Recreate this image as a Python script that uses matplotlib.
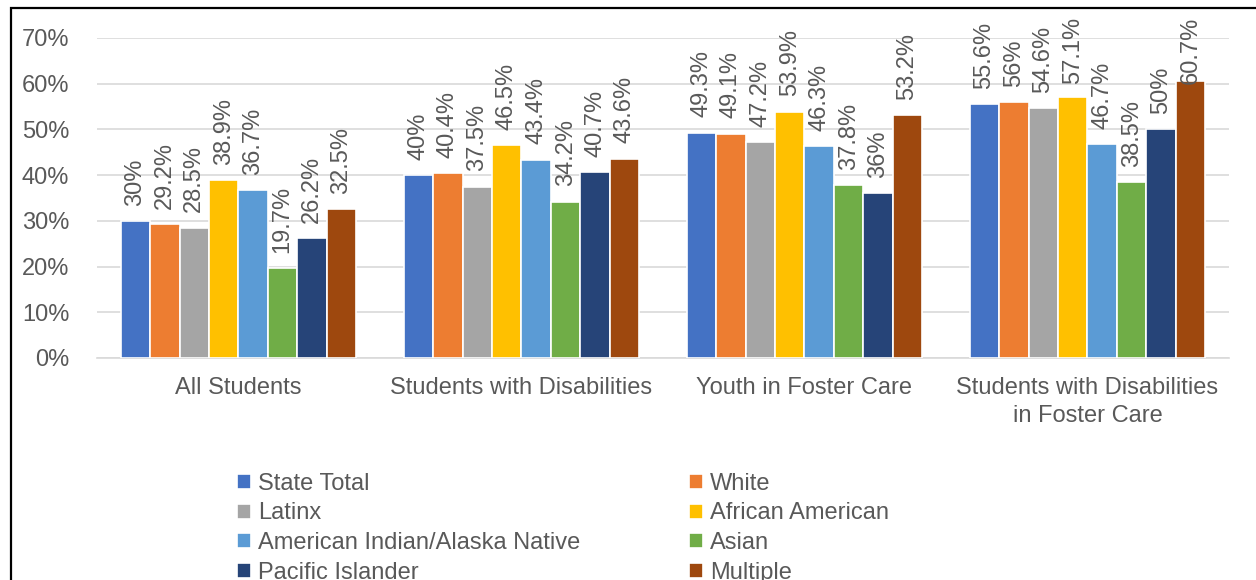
import numpy as np
import matplotlib.pyplot as plt
from matplotlib.patches import Rectangle

plt.rcParams['font.family'] = ['Liberation Sans', 'DejaVu Sans']

categories = ['All Students', 'Students with Disabilities', 'Youth in Foster Care',
              'Students with Disabilities\nin Foster Care']
groups = ['State Total', 'White', 'Latinx', 'African American',
          'American Indian/Alaska Native', 'Asian', 'Pacific Islander', 'Multiple']
values = [
    [30, 40, 49.3, 55.6],      # State Total
    [29.2, 40.4, 49.1, 56],    # White
    [28.5, 37.5, 47.2, 54.6],  # Latinx
    [38.9, 46.5, 53.9, 57.1],  # African American
    [36.7, 43.4, 46.3, 46.7],  # American Indian/Alaska Native
    [19.7, 34.2, 37.8, 38.5],  # Asian
    [26.2, 40.7, 36, 50],      # Pacific Islander
    [32.5, 43.6, 53.2, 60.7],  # Multiple
]
colors = ['#4472C4', '#ED7D31', '#A5A5A5', '#FFC000',
          '#5B9BD5', '#70AD47', '#264478', '#9E480E']

txt = '#595959'
fs = 17
fig = plt.figure(figsize=(12.56, 5.8), dpi=100)
ax = fig.add_axes([0.0772, 0.3828, 0.9013, 0.5517])

x = np.arange(len(categories))
w = 0.104
handles = []
labels = []
for i, (g, vals) in enumerate(zip(groups, values)):
    pos = x + (i - 3.5) * w
    bars = ax.bar(pos, vals, w, color=colors[i], edgecolor='white', linewidth=1.2,
                  label=g, zorder=3)
    handles.append(bars)
    for xp, v in zip(pos, vals):
        a = ax.annotate('{:g}%'.format(v), (xp, v), xytext=(0, 11), textcoords='offset points',
                        rotation=90, ha='center', va='bottom', fontsize=fs, color=txt,
                        zorder=4)
        labels.append(a)

ax.set_xlim(-0.5, 3.5)
ax.set_ylim(0, 70)
ax.set_yticks(np.arange(0, 71, 10))
ax.set_yticklabels(['{}%'.format(t) for t in range(0, 71, 10)])
ax.grid(axis='y', color='#D9D9D9', lw=1.2, zorder=0)
ax.set_xticks(x)
ax.set_xticklabels(categories, linespacing=1.3)
ax.tick_params(length=0, labelsize=fs, labelcolor=txt)
ax.tick_params(axis='y', pad=20)
ax.tick_params(axis='x', pad=14)
for s in ['top', 'right', 'left']:
    ax.spines[s].set_visible(False)
ax.spines['bottom'].set_color('#D9D9D9')
ax.spines['bottom'].set_linewidth(1.2)

# like Excel, push labels that would leave the chart back down
fig.canvas.draw()
limit = fig.bbox.height - 17
for a in labels:
    bb = a.get_window_extent()
    if bb.y1 > limit:
        dx, dy = a.xyann
        a.xyann = (dx, dy - (bb.y1 - limit) * 72 / fig.dpi)

# legend filled row by row
order = [0, 2, 4, 6, 1, 3, 5, 7]
leg = fig.legend([handles[k] for k in order], [groups[k] for k in order],
                 loc='upper left', bbox_to_anchor=(0.179, 0.205), ncol=2, frameon=False,
                 fontsize=fs, handlelength=0.6, handleheight=0.6, handletextpad=0.3,
                 columnspacing=4.6, labelspacing=0.32, borderpad=0)
for t in leg.get_texts():
    t.set_color(txt)

fig.patches.append(Rectangle((11 / 1256, -0.01), 1.1, 1 - 8 / 580 + 0.01,
                             transform=fig.transFigure, fill=False, ec='black', lw=1.6))

fig.savefig('out.png', dpi=100)
